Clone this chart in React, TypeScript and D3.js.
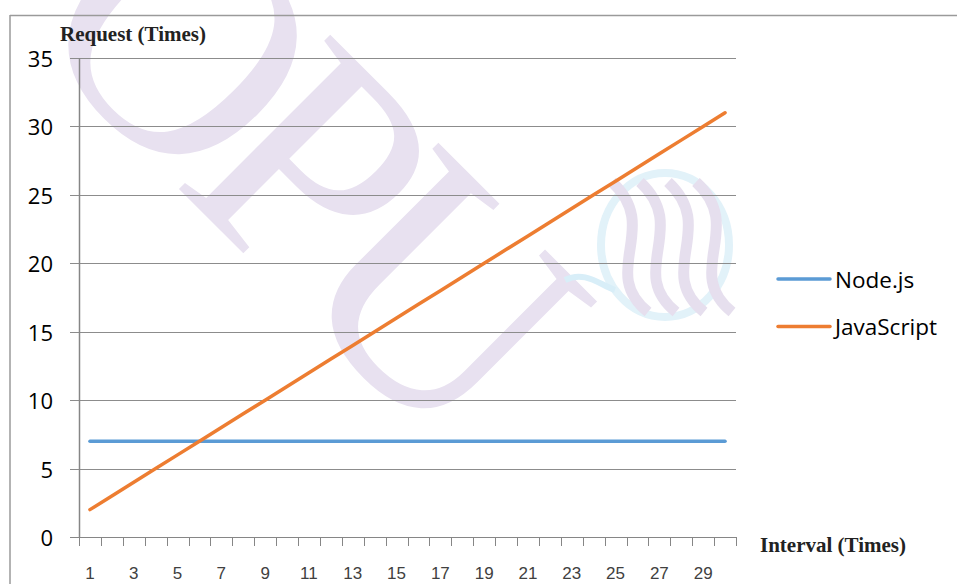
import React from "react";
import * as d3 from "d3";

const categories: number[] = Array.from({ length: 30 }, (_, i) => i + 1);
const nodeValues: number[] = [7,7,7,7,7,7,7,7,7,7,7,7,7,7,7,7,7,7,7,7,7,7,7,7,7,7,7,7,7,7];
const jsValues: number[] = [2,3,4,5,6,7,8,9,10,11,12,13,14,15,16,17,18,19,20,21,22,23,24,25,26,27,28,29,30,31];
const yTicks: number[] = [0, 5, 10, 15, 20, 25, 30, 35];
const seriesNames: string[] = ["Node.js", "JavaScript"];
const seriesColors: string[] = ["#5B9BD5", "#ED7D31"];

export default function App() {
  const W = 957, H = 584;
  const x = d3.scaleBand<number>().domain(categories).range([79, 736]);
  const y = d3.scaleLinear().domain([0, 35]).range([537, 58]);
  const cx = (d: number) => (x(d) as number) + x.bandwidth() / 2;
  const line = d3.line<[number, number]>().x(d => cx(d[0])).y(d => y(d[1]));
  const series = [nodeValues, jsValues];
  const boundaries = d3.range(categories.length + 1).map(i => 79 + i * x.step());
  const axisColor = "#868686";

  return (
    <svg width={W} height={H} style={{ position: "absolute", left: 0, top: 0, display: "block" }}>
      <rect x={0} y={0} width={W} height={H} fill="#fff" />
      {/* watermark */}
      <g style={{ pointerEvents: "none" }}>
        <text x={0} y={0} transform="translate(22,32) rotate(45)" fontFamily="Liberation Serif, serif" fontSize={330} letterSpacing={-28} fill="#e8e1f0">OPU</text>
        <ellipse cx={665} cy={245} rx={64} ry={72} fill="none" stroke="#e2f2f9" strokeWidth={8} />
        {[0, 1, 2, 3].map(i => (
          <path key={i} d={`M ${612 + i * 28} ${182} C ${662 + i * 28} ${228}, ${598 + i * 28} ${272}, ${648 + i * 28} ${312}`} fill="none" stroke="#e6dfee" strokeWidth={11} />
        ))}
        <path d="M 565 280 C 585 270, 600 285, 615 290" fill="none" stroke="#d8eef8" strokeWidth={6} />
      </g>
      {/* outer border */}
      <line x1={10} x2={W} y1={15.5} y2={15.5} stroke="#9a9a9a" strokeWidth={1.5} />
      <line x1={10} x2={10} y1={15} y2={H} stroke="#9a9a9a" strokeWidth={1.5} />
      {/* gridlines & y ticks */}
      {yTicks.map(t => (
        <g key={t}>
          <line x1={70} x2={736} y1={Math.round(y(t)) + 0.5} y2={Math.round(y(t)) + 0.5} stroke={t === 0 ? axisColor : "#8c8c8c"} strokeWidth={1} />
          <text x={53} y={y(t)} textAnchor="end" dominantBaseline="central" fontFamily="Open Sans, sans-serif" fontSize={22} fill="#000">{t}</text>
        </g>
      ))}
      {/* y axis */}
      <line x1={79.5} x2={79.5} y1={58} y2={537} stroke={axisColor} strokeWidth={1.5} />
      {/* x axis ticks */}
      {boundaries.map((b, i) => (
        <line key={i} x1={Math.round(b) + 0.5} x2={Math.round(b) + 0.5} y1={537} y2={546} stroke={axisColor} strokeWidth={1} />
      ))}
      {categories.filter((_, i) => i % 2 === 0).map(c => (
        <text key={c} x={cx(c)} y={579} textAnchor="middle" fontFamily="Liberation Sans, Arial, sans-serif" fontSize={17} fill="#404040">{c}</text>
      ))}
      {/* series */}
      {series.map((vals, si) => (
        <path key={si} d={line(categories.map((c, i) => [c, vals[i]] as [number, number])) || ""} fill="none" stroke={seriesColors[si]} strokeWidth={3.5} strokeLinecap="round" />
      ))}
      {/* titles */}
      <text x={60} y={41} fontFamily="Liberation Serif, Times New Roman, serif" fontWeight="bold" fontSize={21} fill="#222">Request (Times)</text>
      <text x={760} y={552} fontFamily="Liberation Serif, Times New Roman, serif" fontWeight="bold" fontSize={21} fill="#222">Interval (Times)</text>
      {/* legend */}
      {seriesNames.map((n, i) => (
        <g key={n}>
          <line x1={778} x2={830} y1={279 + i * 47.5} y2={279 + i * 47.5} stroke={seriesColors[i]} strokeWidth={3.5} strokeLinecap="round" />
          <text x={835} y={279 + i * 47.5} dominantBaseline="central" fontFamily="Open Sans, sans-serif" fontSize={22.5} fill="#000">{n}</text>
        </g>
      ))}
    </svg>
  );
}
